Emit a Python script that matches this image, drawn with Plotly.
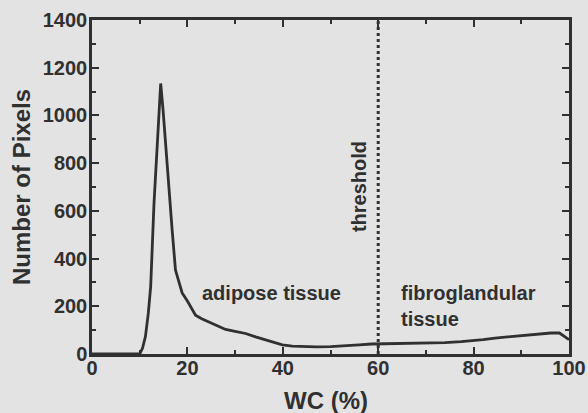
import plotly.graph_objects as go

wc = [0, 10.0, 10.6, 11.2, 11.8, 12.3, 13.0, 13.7, 14.1, 14.4, 14.9, 15.8, 16.8, 17.5, 18.2, 18.9, 20.0, 21.0, 21.7, 23.0, 24.5, 26.0, 28.0, 30.0, 32.2, 34.3, 36.4, 38.2, 39.9, 42.0, 44.0, 47, 50, 53, 56, 58.6, 62, 65, 68, 71, 74, 77.4, 80, 82, 84.5, 87, 89, 91.4, 94, 96.2, 98, 99.2, 100]
pixels = [0, 0, 25, 73, 170, 282, 632, 911, 1060, 1134, 1022, 771, 520, 352, 300, 256, 222, 190, 163, 148, 135, 120, 103, 95, 86, 72, 59, 48, 38, 33, 31, 30, 31, 33, 38, 42, 43, 45, 46, 47, 48, 52, 55, 60, 67, 72, 75, 80, 84, 88, 88, 73, 60]
threshold = 60
x_ticks = [0, 20, 40, 60, 80, 100]
y_ticks = [0, 200, 400, 600, 800, 1000, 1200, 1400]

ink = "#303030"
bg = "#e3e3e3"
font = "Liberation Sans, Arial, sans-serif"

fig = go.Figure()
fig.add_trace(go.Scatter(x=wc, y=pixels, mode="lines",
                         line=dict(color=ink, width=2.8), showlegend=False))
fig.add_trace(go.Scatter(x=[threshold, threshold], y=[0, 1400], mode="lines",
                         line=dict(color=ink, width=3, dash="dot"), showlegend=False))

axis_common = dict(showline=True, linecolor=ink, linewidth=2.5, mirror="allticks",
                   ticks="inside", ticklen=7, tickwidth=2, tickcolor=ink,
                   showgrid=False, zeroline=False, automargin=False,
                   tickfont=dict(family=font, size=20, color=ink, weight="bold"))

fig.update_xaxes(range=[0, 100], tickvals=x_ticks, **axis_common, ticklabelstandoff=-6,
                 minor=dict(ticks="inside", ticklen=4, tickwidth=2, dtick=10, tickcolor=ink))
fig.update_yaxes(range=[0, 1400], tickvals=y_ticks, **axis_common, ticklabelstandoff=-2,
                 minor=dict(ticks="inside", ticklen=4, tickwidth=2, dtick=100, tickcolor=ink),
                 title=dict(text="Number of Pixels", font=dict(family=font, size=24, color=ink, weight="bold"), standoff=6))

fig.add_annotation(xref="paper", yref="paper", x=0.49, y=-0.14, yanchor="middle",
                   text="WC (%)", showarrow=False,
                   font=dict(family=font, size=24, color=ink, weight="bold"))

ann_font = dict(family=font, size=20, color=ink, weight="bold")
fig.add_annotation(x=56.0, y=700, text="threshold", textangle=-90, showarrow=False, font=ann_font)
fig.add_annotation(x=37.7, y=255, text="adipose tissue", showarrow=False, font=ann_font)
fig.add_annotation(x=64.3, y=200, text="fibroglandular<br>tissue", showarrow=False,
                   xanchor="left", align="left", font=ann_font)

fig.update_layout(width=588, height=413, margin=dict(l=92, r=19, t=20, b=59),
                  paper_bgcolor=bg, plot_bgcolor=bg)
fig.write_html("out.html", config={"displayModeBar": False},
               post_script="document.body.style.margin='0';document.body.style.background='%s';" % bg)
